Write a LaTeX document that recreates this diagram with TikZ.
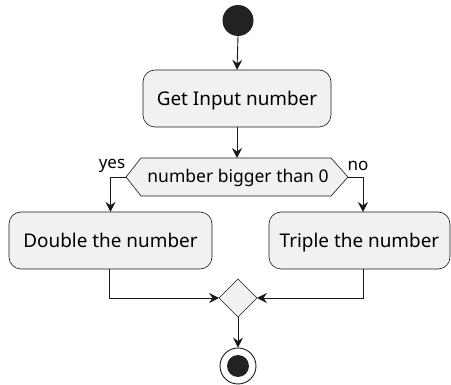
\documentclass[tikz,border=0pt]{standalone}
\usepackage{fontspec}
\setmainfont{Noto Sans}
\usetikzlibrary{arrows.meta,shapes.geometric,calc}
\definecolor{boxfill}{HTML}{F1F1F1}
\definecolor{lin}{HTML}{181818}
\definecolor{dot}{HTML}{222222}
\tikzset{
  actbox/.style={draw=lin,fill=boxfill,rounded corners=12pt,line width=0.6pt},
  acttext/.style={font=\fontsize{18.9}{22}\selectfont,inner sep=0pt,anchor=base},
  flow/.style={draw=lin,line width=0.9pt,-{Stealth[length=10pt,width=10pt,inset=3.5pt]}},
  lbl/.style={font=\fontsize{17}{20}\selectfont,inner sep=0pt},
}
\begin{document}
\begin{tikzpicture}[x=1pt,y=-1pt]
\useasboundingbox (0,0) rectangle (451,385);
\node[circle,fill=dot,minimum size=31pt,inner sep=0pt] (start) at (238,20.5) {};
\path[actbox] (143,70) rectangle (331,127);
\node[inner sep=0pt,minimum width=188pt,minimum height=57pt] (get) at (237,98.5) {};
\node[acttext] (gett) at (237,106) {Get Input number};
% hexagon
\draw[draw=lin,fill=boxfill,line width=0.6pt] (126,177) -- (141,158) -- (331,158) -- (348,177) -- (331,196) -- (141,196) -- cycle;
\coordinate (hl) at (126,177);
\coordinate (hr) at (348,177);
\coordinate (ht) at (237,158);
\node[font=\fontsize{17.5}{20}\selectfont,inner sep=0pt] (cond) at (238,178) {number bigger than 0};
\node[lbl] (yes) at (112,166) {yes};
\node[lbl] (no) at (358,166) {no};
% branch boxes
\path[actbox] (9,212) rectangle (212,269);
\node[inner sep=0pt,minimum width=203pt,minimum height=57pt] (dbl) at (110.5,240.5) {};
\node[acttext] (dblt) at (110.5,247.5) {Double the number};
\path[actbox] (269,212) rectangle (450,269);
\node[inner sep=0pt,minimum width=181pt,minimum height=57pt] (tpl) at (359.5,240.5) {};
\node[acttext] (tplt) at (359.5,247.5) {Triple the number};
% merge diamond
\draw[draw=lin,fill=boxfill,line width=0.6pt] (219,298) -- (238,279) -- (257,298) -- (238,317) -- cycle;
\coordinate (ml) at (219,298);
\coordinate (mr) at (257,298);
\coordinate (mb) at (238,317);
% end
\node[circle,draw=lin,line width=0.9pt,minimum size=36pt,inner sep=0pt] (end) at (238,366) {};
\node[circle,fill=dot,minimum size=22pt,inner sep=0pt] (endin) at (238,366) {};
% connectors
\draw[flow] (start.south) -- (get.north);
\draw[flow] (get.south) -- (ht);
\draw[flow] (hl) -| (dbl.north);
\draw[flow] (hr) -| (363,212);
\draw[flow] (109,269) |- (ml);
\draw[flow] (363,269) |- (mr);
\draw[flow] (mb) -- (end.north);
\end{tikzpicture}
\end{document}
